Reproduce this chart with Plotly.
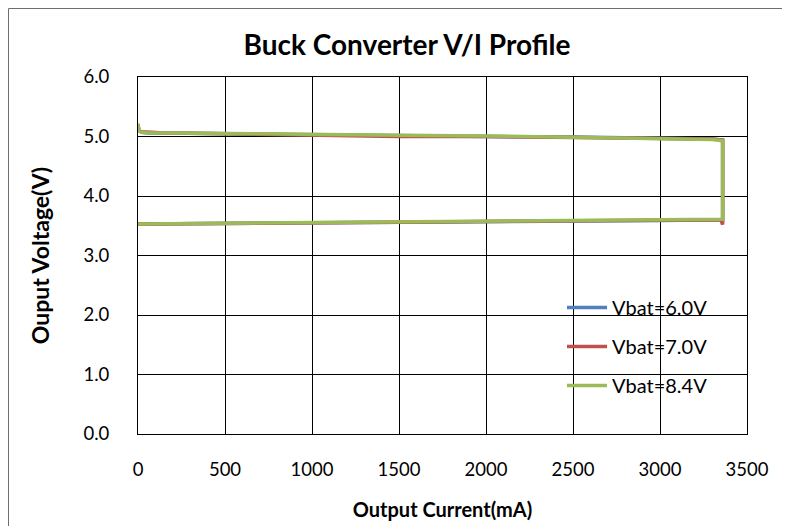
import plotly.graph_objects as go

# Output current (mA) sweep: up at ~5 V, drop at current limit, back down at ~3.5 V
i_6v = [0, 5, 20, 60, 150, 400, 700, 1000, 1500, 2000, 2500, 3000, 3300, 3360, 3360, 3000, 2500, 2000, 1500, 1000, 500, 0]
v_6v = [5.20, 5.10, 5.07, 5.06, 5.06, 5.05, 5.04, 5.03, 5.01, 5.00, 4.99, 4.97, 4.96, 4.94, 3.60, 3.59, 3.58, 3.57, 3.56, 3.55, 3.54, 3.53]

i_7v = [0, 5, 20, 60, 150, 400, 700, 1000, 1500, 2000, 2500, 3000, 3300, 3360, 3360, 3350, 3000, 2500, 2000, 1500, 1000, 500, 0]
v_7v = [5.20, 5.10, 5.08, 5.07, 5.06, 5.05, 5.04, 5.02, 5.00, 5.00, 4.99, 4.97, 4.96, 4.94, 3.52, 3.60, 3.59, 3.58, 3.57, 3.56, 3.55, 3.54, 3.53]

i_84v = [0, 5, 20, 60, 150, 400, 700, 1000, 1500, 2000, 2500, 3000, 3300, 3360, 3360, 3000, 2500, 2000, 1500, 1000, 500, 0]
v_84v = [5.22, 5.10, 5.07, 5.06, 5.06, 5.05, 5.04, 5.03, 5.02, 5.01, 4.99, 4.97, 4.95, 4.93, 3.61, 3.60, 3.59, 3.57, 3.56, 3.55, 3.54, 3.53]

series_names = ["Vbat=6.0V", "Vbat=7.0V", "Vbat=8.4V"]
series_colors = ["#4F81BD", "#C0504D", "#9BBB59"]

x_ticks = [0, 500, 1000, 1500, 2000, 2500, 3000, 3500]
y_ticks = [0.0, 1.0, 2.0, 3.0, 4.0, 5.0, 6.0]

FONT = "Lato, Carlito, Calibri, sans-serif"

fig = go.Figure()
for name, color, xs, ys in zip(series_names, series_colors,
                               [i_6v, i_7v, i_84v], [v_6v, v_7v, v_84v]):
    fig.add_trace(go.Scatter(x=xs, y=ys, mode="lines", name=name,
                             legendgroup=name,
                             line=dict(color=color, width=3.5)))

# outer chart frame (screen pixels: plot area 138..747 x, 77..434 y)
pw, ph = 609.0, 357.0
fig.add_shape(type="rect", xref="paper", yref="paper",
              x0=(8.5 - 138) / pw, x1=(810 - 138) / pw,
              y0=(434 - 545) / ph, y1=(434 - 8.5) / ph,
              line=dict(color="#6e6e6e", width=1), fillcolor="rgba(0,0,0,0)",
              layer="below")

fig.update_layout(
    width=790, height=526,
    margin=dict(l=130, r=51, t=69, b=100),
    paper_bgcolor="white", plot_bgcolor="white",
    font=dict(family=FONT, color="black", size=16),
    title=dict(text="<b>Buck Converter V/I Profile</b>", x=399 / 790, xanchor="center",
               y=1 - 37 / 526, yanchor="middle",
               font=dict(family=FONT, size=28, color="black")),
    showlegend=True,
    legend=dict(x=(562 - 138) / pw, y=(434 - 288) / ph, xanchor="left", yanchor="top",
                bgcolor="rgba(0,0,0,0)", tracegroupgap=10, itemwidth=40,
                font=dict(family=FONT, size=20, color="black")),
    xaxis=dict(range=[0, 3500], tickvals=x_ticks, ticktext=[str(v) for v in x_ticks],
               showgrid=True, gridcolor="black", gridwidth=1,
               showline=True, linecolor="black", linewidth=1, mirror=True,
               zeroline=False, ticks="", ticklabelstandoff=19,
               tickfont=dict(family=FONT, size=18.5, color="black"),
               title=dict(text="<b>Output Current(mA)</b>", standoff=23,
                          font=dict(family=FONT, size=20, color="black"))),
    yaxis=dict(range=[0, 6], tickvals=y_ticks, tickformat=".1f",
               showgrid=True, gridcolor="black", gridwidth=1,
               showline=True, linecolor="black", linewidth=1, mirror=True,
               zeroline=False, ticks="", ticklabelstandoff=24,
               tickfont=dict(family=FONT, size=18.5, color="black"),
               title=dict(text="<b>Ouput Voltage(V)</b>", standoff=27,
                          font=dict(family=FONT, size=23, color="black"))),
)

fig.write_html("out.html")
